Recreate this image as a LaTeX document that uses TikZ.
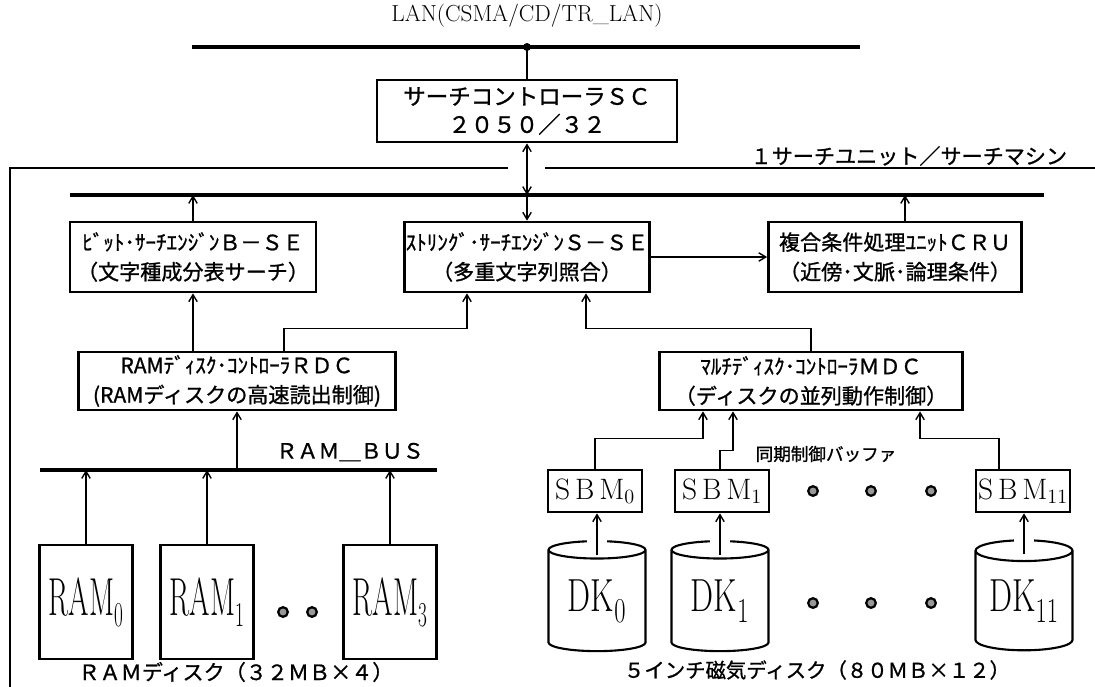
\documentclass[tikz,border=0pt]{standalone}
\usepackage{fontspec}
\usepackage{graphicx}
\usetikzlibrary{arrows.meta,positioning,shapes.geometric,calc}
\newfontfamily\jp[FakeBold=1]{Noto Sans CJK JP}
\newcommand{\ramtxt}[1]{\scalebox{0.55}[1]{\fontsize{38}{38}\selectfont RAM$_{#1}$}}
\newcommand{\dktxt}[1]{\scalebox{0.7}[1]{\fontsize{33}{33}\selectfont DK$_{#1}$}}

\begin{document}
\begin{tikzpicture}[
  x=0.025cm, y=-0.025cm,
  >={Straight Barb[length=5pt,width=6pt]},
  block/.style={draw,line width=1.9pt,rectangle,align=center,inner sep=1pt,
                font=\jp\fontsize{15}{21}\selectfont},
  ramblk/.style={draw,line width=1.9pt,rectangle,minimum width=2.325cm,
                 minimum height=2.85cm,inner sep=0pt},
  sbmblk/.style={draw,line width=1.9pt,rectangle,minimum width=2.35cm,
                 minimum height=1.05cm,inner sep=0pt},
  disk/.style={draw,line width=1.5pt,cylinder,shape border rotate=90,aspect=0.3,
               minimum width=2.425cm,minimum height=2.75cm,inner sep=0pt},
  bus/.style={line width=2.2pt},
  arr/.style={->,line width=1pt},
  dotmark/.style={circle,draw,line width=1.6pt,fill=black!40,inner sep=0pt,
                  minimum size=0.24cm},
  jplbl/.style={font=\jp\fontsize{15}{18}\selectfont}
]
\useasboundingbox (0,0) rectangle (1095,686);
% LAN
\node (lanlbl) at (527,16) {\fontsize{16.5}{18}\selectfont LAN(CSMA/CD/TR\_LAN)};
\coordinate (lanL) at (192,47);
\coordinate (lanR) at (860,47);
\coordinate (tap) at (527,47);
\draw[bus] (lanL) -- (lanR);
\fill (tap) circle (0.1cm);
% Search controller
\node[block,font=\jp\fontsize{16}{20}\selectfont,minimum width=7.5cm,
  minimum height=1.55cm] (sc) at (527,111) {サーチコントローラＳＣ\\２０５０／３２};
\draw[line width=1pt] (tap) -- (sc);
% Search unit frame
\node[jplbl,anchor=east] (unit) at (1072,156) {１サーチユニット／サーチマシン};
\draw[line width=1.1pt] (508,168) -- (10,168) -- (10,690);
\draw[line width=1.1pt] (545,168) -- (1095,168);
% Search bus
\coordinate (busL) at (70,195);
\coordinate (busR) at (1044,195);
\draw[bus] (busL) -- (busR);
\draw[<->,line width=1pt] (sc.south) -- (sc.south |- busL);
% Search engines
\node[block,minimum width=6.15cm,minimum height=1.75cm] (bse) at (193,257)
  {ﾋﾞｯﾄ･ｻｰﾁｴﾝｼﾞﾝＢ－ＳＥ\\（文字種成分表サーチ）};
\node[block,minimum width=6.075cm,minimum height=1.75cm] (sse) at (527,257)
  {ｽﾄﾘﾝｸﾞ･ｻｰﾁｴﾝｼﾞﾝＳ－ＳＥ\\（多重文字列照合）};
\node[block,minimum width=6.325cm,minimum height=1.75cm] (cru) at (895,257)
  {複合条件処理ﾕﾆｯﾄＣＲＵ\\（近傍･文脈･論理条件）};
\draw[arr] (bse.north) -- (bse.north |- busL);
\draw[arr] (sse.north |- busL) -- (sse.north);
\draw[arr] ([xshift=0.25cm]cru.north) -- ([xshift=0.25cm]cru.north |- busL);
\draw[arr] (sse) -- (cru);
% Disk controllers
\node[block,minimum width=7.925cm,minimum height=1.45cm] (rdc) at (237,381)
  {RAMﾃﾞｨｽｸ･ｺﾝﾄﾛｰﾗＲＤＣ\\(RAMディスクの高速読出制御)};
\node[block,minimum width=7.575cm,minimum height=1.45cm] (mdc) at (811,381)
  {ﾏﾙﾁﾃﾞｨｽｸ･ｺﾝﾄﾛｰﾗＭＤＣ\\（ディスクの並列動作制御）};
\draw[arr] (rdc.north -| bse) -- (bse.south);
\draw[arr] ([xshift=1.175cm]rdc.north) -- ++(0,-22) -| ([xshift=-1.5cm]sse.south);
\draw[arr] (mdc.north) -- ++(0,-22) -| ([xshift=1.475cm]sse.south);
% RAM bus
\coordinate (rbL) at (40,470);
\coordinate (rbR) at (437,470);
\draw[bus] (rbL) -- (rbR);
\node[jplbl] (rblbl) at (350,452) {ＲＡＭ＿ＢＵＳ};
\draw[arr] (rdc.south |- rbL) -- (rdc.south);
% RAM disks
\foreach \i/\x in {0/86,1/207,3/390}
  \node[ramblk] (ram\i) at (\x,602) {\ramtxt{\i}};
\foreach \i in {0,1,3}
  \draw[arr] (ram\i.north) -- (ram\i.north |- rbL);
\foreach \x [count=\k] in {283,312}
  \node[dotmark] (rdot\k) at (\x,612) {};
\node[jplbl] (ramcap) at (236,672) {ＲＡＭディスク（３２ＭＢ×４）};
% Sync buffers
\foreach \i/\x in {0/595,1/722,11/1023}
  \node[sbmblk] (sbm\i) at (\x,491) {\fontsize{21}{21}\selectfont S\,B\,M$_{\i}$};
\node[font=\jp\fontsize{12.5}{15}\selectfont] (sbmlbl) at (826,454) {同期制御バッファ};
\foreach \x [count=\k] in {813,871,931}
  \node[dotmark] (sdot\k) at (\x,491) {};
\draw[arr] (sbm0.north) -- ++(0,-30) -| ([xshift=-2.7cm]mdc.south);
\draw[arr] ([xshift=-0.05cm]sbm1.north) -- ++(0,-18) -| ([xshift=-1.95cm]mdc.south);
\draw[arr] ([xshift=-0.6cm]sbm11.north) -- ++(0,-30) -| ([xshift=2.725cm]mdc.south);
% Magnetic disks
\foreach \i/\x in {0/597,1/720,11/1024}
  \node[disk] (dk\i) at (\x,601) {\dktxt{\i}};
\foreach \i in {0,1,11}{
  \draw[white,line width=14pt] ([yshift=2pt]dk\i.north) -- ([yshift=-3pt]dk\i.north);
  \draw[arr] ([yshift=-0.375cm]dk\i.north) -- (dk\i.north |- sbm\i.south);
}
\foreach \x [count=\k] in {813,871,931}
  \node[dotmark] (ddot\k) at (\x,603) {};
\node[font=\jp\fontsize{14.5}{18}\selectfont] (dkcap) at (817,670)
  {５インチ磁気ディスク（８０ＭＢ×１２）};
\end{tikzpicture}
\end{document}
